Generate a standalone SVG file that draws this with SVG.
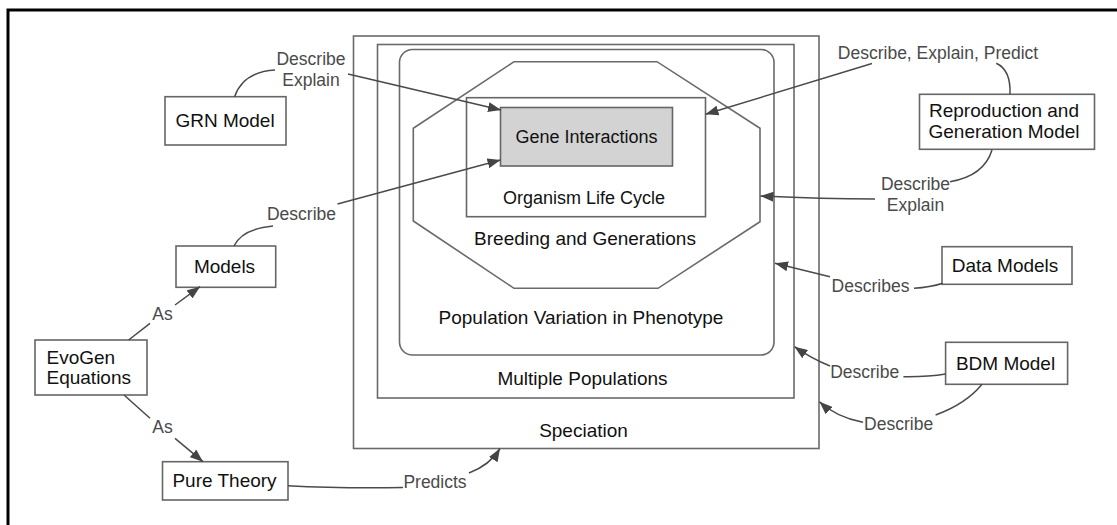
<svg xmlns="http://www.w3.org/2000/svg" width="1117" height="525" viewBox="0 0 1117 525">
<defs>
<marker id="ah" markerUnits="userSpaceOnUse" markerWidth="14" markerHeight="10" refX="13" refY="5" orient="auto">
<path d="M0,0 L13,5 L0,10 z" fill="#444"/>
</marker>
<style>
.box{fill:#fff;stroke:#666;stroke-width:1.6}
.ctr{fill:none;stroke:#6a6a6a;stroke-width:1.6}
.gene{fill:#d3d3d3;stroke:#666;stroke-width:1.6}
.t{font-family:"Liberation Sans",Arial,Helvetica,sans-serif;font-size:19px;fill:#111;text-anchor:middle}
.ts{font-size:18px}
.lbl{font-family:"Liberation Sans",Arial,Helvetica,sans-serif;font-size:17.5px;fill:#4a4a4a;text-anchor:middle}
.e{fill:none;stroke:#4a4a4a;stroke-width:1.5}
.ea{fill:none;stroke:#4a4a4a;stroke-width:1.5;marker-end:url(#ah)}
</style>
</defs>
<rect x="0" y="0" width="1117" height="525" fill="#fff"/>
<rect x="8" y="10" width="1200" height="600" fill="none" stroke="#000" stroke-width="3"/>

<g id="speciation">
<rect class="ctr" x="353.5" y="36" width="465.5" height="412.5"/>
<text class="t" x="583.5" y="436.5">Speciation</text>
</g>
<g id="multiple-populations">
<rect class="ctr" x="377.5" y="44.5" width="416.5" height="353.5"/>
<text class="t" x="582.5" y="384.5">Multiple Populations</text>
</g>
<g id="population-variation">
<rect class="ctr" x="399.5" y="49.5" width="374.5" height="305.5" rx="13" ry="13"/>
<text class="t" x="581" y="324">Population Variation in Phenotype</text>
</g>
<g id="breeding-generations">
<polygon class="ctr" points="514,61.7 657,61.7 760,128.3 760,221.7 658,288.3 514,288.3 413.3,221 413.3,128.3"/>
<text class="t" x="585" y="244.5">Breeding and Generations</text>
</g>
<g id="organism-life-cycle">
<rect class="box" x="466.5" y="97.7" width="239" height="119"/>
<text class="t ts" x="584" y="204">Organism Life Cycle</text>
</g>
<g id="gene-interactions">
<rect class="gene" x="500.5" y="107.5" width="172" height="58.5"/>
<text class="t ts" x="586.5" y="142.5">Gene Interactions</text>
</g>

<g id="grn-model">
<rect class="box" x="165" y="96.7" width="121" height="48.3"/>
<text class="t" x="225" y="127">GRN Model</text>
</g>
<g id="models">
<rect class="box" x="176" y="246" width="99.7" height="41.3"/>
<text class="t" x="224.5" y="273">Models</text>
</g>
<g id="evogen-equations">
<rect class="box" x="35" y="340" width="112" height="55"/>
<text class="t" x="46.5" y="363.5" style="text-anchor:start">EvoGen</text>
<text class="t" x="46.5" y="384" style="text-anchor:start">Equations</text>
</g>
<g id="pure-theory">
<rect class="box" x="162.5" y="461.7" width="125.5" height="38.3"/>
<text class="t" x="224.5" y="487">Pure Theory</text>
</g>
<g id="reproduction-generation-model">
<rect class="box" x="919.5" y="94.3" width="175" height="55"/>
<text class="t" x="1004" y="116.5">Reproduction and</text>
<text class="t" x="1004" y="138">Generation Model</text>
</g>
<g id="data-models">
<rect class="box" x="942" y="246.7" width="130" height="37.6"/>
<text class="t" x="1005" y="272">Data Models</text>
</g>
<g id="bdm-model">
<rect class="box" x="945.6" y="342.3" width="122" height="42"/>
<text class="t" x="1005.5" y="369.5">BDM Model</text>
</g>

<g id="connectors">
<path class="e" d="M234.6,96.7 Q243,72 275,70"/>
<path class="ea" d="M348,74 L501,110"/>
<text class="lbl" x="311" y="65">Describe</text>
<text class="lbl" x="311" y="86">Explain</text>

<path class="e" d="M234,246 Q242,229 273,226"/>
<path class="ea" d="M337.5,204 L500.5,160"/>
<text class="lbl" x="301.5" y="220">Describe</text>

<path class="e" d="M1010,94.3 Q1011,70 996.3,63.3"/>
<path class="ea" d="M872,63.5 L705.5,114.3"/>
<text class="lbl" x="938" y="59">Describe, Explain, Predict</text>

<path class="e" d="M992,150 Q984,176 950,181.7"/>
<path class="ea" d="M875,199 Q822,199 760.5,196"/>
<text class="lbl" x="915.5" y="189.5">Describe</text>
<text class="lbl" x="915.5" y="211">Explain</text>

<path class="e" d="M942.7,283.3 Q930,287.5 914,288.3"/>
<path class="ea" d="M830,276.7 L775,263.3"/>
<text class="lbl" x="870.5" y="292.3">Describes</text>

<path class="e" d="M945.6,374 Q928,377 903.4,376.7"/>
<path class="ea" d="M830,366 Q812,359 794.5,346.7"/>
<text class="lbl" x="864.7" y="378.3">Describe</text>

<path class="e" d="M982,384.3 Q966,404 935.6,415"/>
<path class="ea" d="M863,422.3 Q836,417 819.5,401.7"/>
<text class="lbl" x="898.6" y="430">Describe</text>

<path class="e" d="M128.6,340 L150,323.3"/>
<path class="ea" d="M175,305 L200,286.7"/>
<text class="lbl" x="162.5" y="320">As</text>

<path class="e" d="M124,395 L150,418.3"/>
<path class="ea" d="M175,438.3 L203,461.7"/>
<text class="lbl" x="162.5" y="433.3">As</text>

<path class="e" d="M288,485.7 Q340,488.5 403,487.5"/>
<path class="ea" d="M469,473 Q490,465 500,448.5"/>
<text class="lbl" x="435" y="488.3">Predicts</text>
</g>
</svg>
